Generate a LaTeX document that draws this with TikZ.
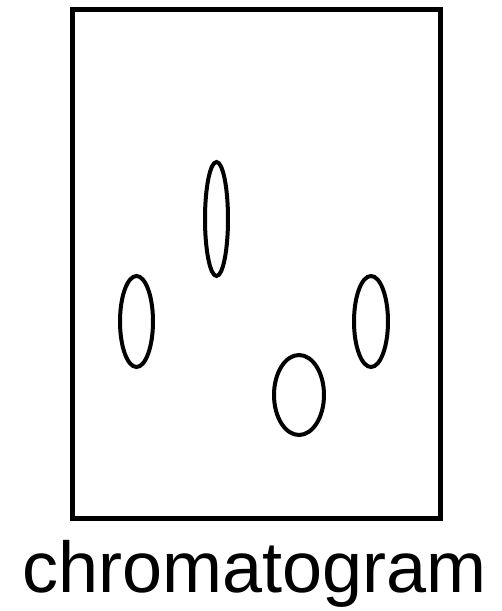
\documentclass[tikz,border=0pt]{standalone}
\usepackage{fontspec}
\setmainfont{Liberation Sans}
\usetikzlibrary{shapes.geometric}
\begin{document}
\begin{tikzpicture}[x=1pt,y=-1pt,
  spot/.style={draw,ellipse,line width=4pt,inner sep=0pt}]
\useasboundingbox (0,0) rectangle (502,611);
% plate
\draw[line width=5pt] (72.5,9.5) rectangle (440.5,518.5);
% spots
\foreach \name/\x/\y/\w/\h in {spotA/216.5/219/23/114,spotB/136.5/321.5/33/91,spotC/371/321.5/34/91,spotD/299/395/50/80} {
  \node[spot,minimum width=\w pt,minimum height=\h pt] (\name) at (\x,\y) {};
}
\node[anchor=base,font=\fontsize{72}{72}\selectfont] (label) at (254.5,592) {chromatogram};
\end{tikzpicture}
\end{document}
